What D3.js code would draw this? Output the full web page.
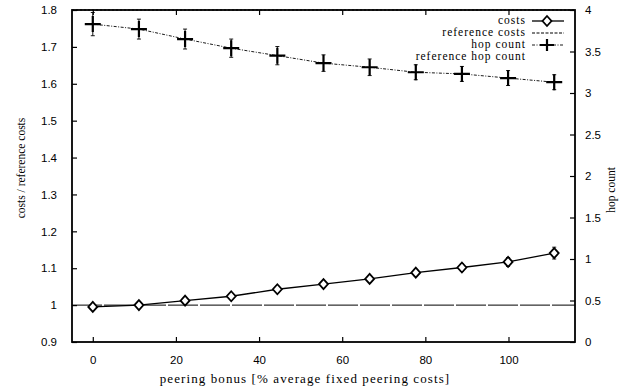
<!DOCTYPE html>
<html>
<head>
<meta charset="utf-8">
<script src="https://cdn.jsdelivr.net/npm/d3@7"></script>
<style>
  body { margin: 0; background: #fff; }
  svg { display: block; font-family: "Liberation Serif", "DejaVu Serif", serif; }
</style>
</head>
<body>
<svg id="chart" width="635" height="389"></svg>
<script>
/* --- data --- */
const bonus = [0, 11.1, 22.2, 33.3, 44.4, 55.5, 66.6, 77.7, 88.8, 99.9, 111];
const costs = [0.995, 1.000, 1.012, 1.024, 1.043, 1.057, 1.071, 1.088, 1.102, 1.117, 1.141];
const costsErr = [0.005, 0.004, 0.005, 0.006, 0.008, 0.007, 0.008, 0.009, 0.010, 0.012, 0.016];
const hopCount = [3.83, 3.77, 3.65, 3.54, 3.45, 3.36, 3.31, 3.25, 3.23, 3.18, 3.13];
const hopErr = [0.14, 0.12, 0.12, 0.11, 0.11, 0.10, 0.10, 0.09, 0.09, 0.09, 0.09];
const referenceCosts = 1.0;
const referenceHop = 4.0;
const xTicks = [0, 20, 40, 60, 80, 100];
const yTicks = [0.9, 1.0, 1.1, 1.2, 1.3, 1.4, 1.5, 1.6, 1.7, 1.8];
const y2Ticks = [0, 0.5, 1, 1.5, 2, 2.5, 3, 3.5, 4];
const legendLabels = ['costs', 'reference costs', 'hop count', 'reference hop count'];

const margin = { top: 10, right: 60, bottom: 47, left: 72 };
const width = 635, height = 389;
const innerW = width - margin.left - margin.right;
const innerH = height - margin.top - margin.bottom;

const svg = d3.select('#chart');
const g = svg.append('g').attr('transform', `translate(${margin.left},${margin.top})`);

const x = d3.scaleLinear().domain([-5, 116]).range([0, innerW]);
const y = d3.scaleLinear().domain([0.9, 1.8]).range([innerH, 0]);
const y2 = d3.scaleLinear().domain([0, 4]).range([innerH, 0]);
const fmt = d3.format('~g');

// axes (gnuplot style: ticks pointing inward)
const styleAxis = sel => {
  sel.select('.domain').remove();
  sel.selectAll('line').attr('stroke', '#000').attr('stroke-width', 1.2);
  sel.selectAll('text').attr('fill', '#000').style('font-size', '11.5px');
};
g.append('g').attr('transform', `translate(0,${innerH})`)
  .call(d3.axisBottom(x).tickValues(xTicks).tickFormat(fmt).tickSize(-5).tickPadding(14))
  .call(styleAxis);
g.append('g')
  .call(d3.axisTop(x).tickValues(xTicks).tickFormat('').tickSize(-5))
  .call(styleAxis);
g.append('g')
  .call(d3.axisLeft(y).tickValues(yTicks).tickFormat(fmt).tickSize(-5).tickPadding(15))
  .call(styleAxis);
g.append('g').attr('transform', `translate(${innerW},0)`)
  .call(d3.axisRight(y2).tickValues(y2Ticks).tickFormat(fmt).tickSize(-5).tickPadding(10))
  .call(styleAxis);

// reference lines
g.append('line')
  .attr('x1', 0).attr('x2', innerW)
  .attr('y1', y(referenceCosts)).attr('y2', y(referenceCosts))
  .attr('stroke', '#000').attr('stroke-width', 1).attr('stroke-dasharray', '30,2');
g.append('line')
  .attr('x1', 0).attr('x2', innerW)
  .attr('y1', y2(referenceHop)).attr('y2', y2(referenceHop))
  .attr('stroke', '#000').attr('stroke-width', 1.2).attr('stroke-dasharray', '2,2');

// frame
g.append('rect').attr('width', innerW).attr('height', innerH)
  .attr('fill', 'none').attr('stroke', '#000').attr('stroke-width', 1.8);

const costRows = bonus.map((b, i) => ({ b, v: costs[i], e: costsErr[i] }));
const hopRows = bonus.map((b, i) => ({ b, v: hopCount[i], e: hopErr[i] }));

// hop count: dotted line, error bars, plus markers
g.append('path').datum(hopRows)
  .attr('fill', 'none').attr('stroke', '#000').attr('stroke-width', 0.9)
  .attr('stroke-dasharray', '3,1.5,1,1.5')
  .attr('d', d3.line().x(d => x(d.b)).y(d => y2(d.v)));

function errorBars(rows, scale, cls) {
  const eb = g.selectAll(`g.${cls}`).data(rows).join('g').attr('class', cls)
    .attr('stroke', '#000').attr('stroke-width', 0.9);
  eb.append('line')
    .attr('x1', d => x(d.b)).attr('x2', d => x(d.b))
    .attr('y1', d => scale(d.v - d.e)).attr('y2', d => scale(d.v + d.e));
  eb.append('line')
    .attr('x1', d => x(d.b) - 2).attr('x2', d => x(d.b) + 2)
    .attr('y1', d => scale(d.v - d.e)).attr('y2', d => scale(d.v - d.e));
  eb.append('line')
    .attr('x1', d => x(d.b) - 2).attr('x2', d => x(d.b) + 2)
    .attr('y1', d => scale(d.v + d.e)).attr('y2', d => scale(d.v + d.e));
}
errorBars(hopRows, y2, 'hop-err');

const plusPath = 'M-8,0H8M0,-8V8';
g.selectAll('path.hop').data(hopRows).join('path').attr('class', 'hop')
  .attr('transform', d => `translate(${x(d.b)},${y2(d.v)})`)
  .attr('d', plusPath).attr('stroke', '#000').attr('stroke-width', 2.2);

// costs: solid line, error bars, open diamonds
g.append('path').datum(costRows)
  .attr('fill', 'none').attr('stroke', '#000').attr('stroke-width', 1.3)
  .attr('d', d3.line().x(d => x(d.b)).y(d => y(d.v)));
errorBars(costRows, y, 'cost-err');
const diamondPath = 'M0,-5L4.5,0L0,5L-4.5,0Z';
g.selectAll('path.cost').data(costRows).join('path').attr('class', 'cost')
  .attr('transform', d => `translate(${x(d.b)},${y(d.v)})`)
  .attr('d', diamondPath).attr('fill', '#fff').attr('stroke', '#000').attr('stroke-width', 1.8);

// axis titles
svg.append('text')
  .attr('transform', `translate(22,${margin.top + innerH / 2 - 8}) rotate(-90)`)
  .attr('text-anchor', 'middle').attr('dominant-baseline', 'middle')
  .style('font-size', '11.5px').text('costs / reference costs');
svg.append('text')
  .attr('transform', `translate(612,${margin.top + innerH / 2 + 14}) rotate(-90)`)
  .attr('text-anchor', 'middle').attr('dominant-baseline', 'middle')
  .style('font-size', '11.5px').text('hop count');
svg.append('text')
  .attr('x', 305).attr('y', 380)
  .attr('text-anchor', 'middle').attr('dominant-baseline', 'middle')
  .style('font-size', '13px').style('letter-spacing', '1.1px')
  .text('peering bonus [% average fixed peering costs]');

// legend
const legend = svg.append('g').attr('transform', 'translate(526,21)');
const items = legend.selectAll('g.item').data(legendLabels).join('g')
  .attr('class', 'item')
  .attr('transform', (d, i) => `translate(0,${i * 12})`);
items.append('text')
  .attr('text-anchor', 'end').attr('dominant-baseline', 'middle')
  .style('font-size', '11.5px').style('letter-spacing', '1px').text(d => d);
items.filter((d, i) => i === 0).call(s => {
  s.append('line').attr('x1', 6).attr('x2', 38).attr('stroke', '#000').attr('stroke-width', 1.3);
  s.append('path').attr('transform', 'translate(21,0)').attr('d', diamondPath)
    .attr('fill', '#fff').attr('stroke', '#000').attr('stroke-width', 1.8);
});
items.filter((d, i) => i === 1).append('line')
  .attr('x1', 6).attr('x2', 38).attr('stroke', '#000').attr('stroke-width', 1.1)
  .attr('stroke-dasharray', '3,1.5');
items.filter((d, i) => i === 2).call(s => {
  s.append('line').attr('x1', 6).attr('x2', 38).attr('stroke', '#000').attr('stroke-width', 0.9)
    .attr('stroke-dasharray', '3,1.5,1,1.5');
  s.append('path').attr('transform', 'translate(21,0)').attr('d', 'M-7,0H7M0,-6V6')
    .attr('stroke', '#000').attr('stroke-width', 2.2);
});
</script>
</body>
</html>
